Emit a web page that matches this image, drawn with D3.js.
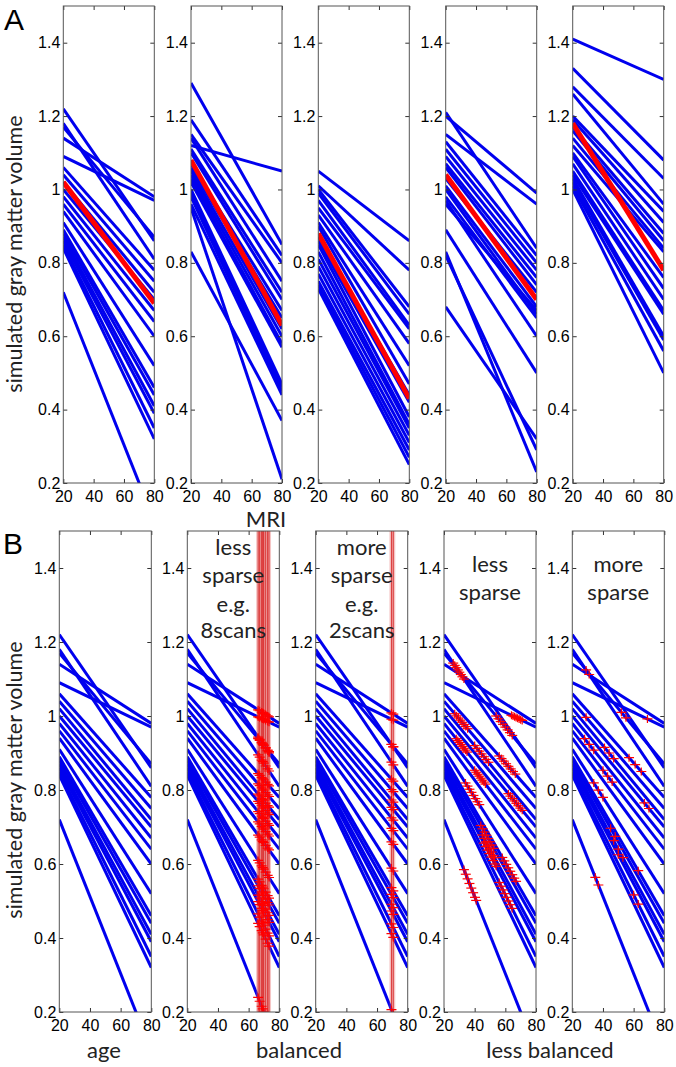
<!DOCTYPE html>
<html><head><meta charset="utf-8">
<script src="https://cdn.jsdelivr.net/npm/d3@7"></script>
<style>body{margin:0;background:#fff}</style></head>
<body><svg id="c" width="676" height="1067"></svg>
<script>
// ---------- data ----------
const ageTicks = [20, 40, 60, 80];
const volTicks = [0.2, 0.4, 0.6, 0.8, 1, 1.2, 1.4];
const volTickLabels = ["0.2", "0.4", "0.6", "0.8", "1", "1.2", "1.4"];

// Row A: simulated subjects, volume at age 20 and at age 80 (straight lines)
const a1Start = [1.22,1.18,1.17,1.14,1.09,1.06,1.04,1.02,1.00,0.98,0.96,0.94,0.91,0.89,0.88,0.87,0.86,0.85,0.84,0.72];
const a1End   = [0.86,0.81,0.87,0.98,0.97,0.78,0.75,0.72,0.70,0.67,0.64,0.60,0.52,0.46,0.44,0.41,0.39,0.35,0.32,0.096];
const a1Mean  = [1.02, 0.69];

const a2Start = [1.29,1.19,1.15,1.14,1.12,1.11,1.10,1.07,1.06,1.05,1.04,1.03,1.02,1.00,0.99,0.98,0.96,0.95,0.83];
const a2End   = [0.85,0.82,0.80,0.75,1.05,0.72,0.70,0.67,0.65,0.62,0.60,0.58,0.57,0.47,0.46,0.45,0.44,0.21,0.37];
const a2Mean  = [1.08, 0.63];

const a3Start = [1.05,1.01,1.00,0.99,0.97,0.95,0.93,0.91,0.90,0.87,0.86,0.85,0.83,0.81,0.79,0.77,0.75,0.74,0.73];
const a3End   = [0.86,0.78,0.68,0.66,0.63,0.62,0.58,0.52,0.47,0.44,0.42,0.38,0.36,0.35,0.33,0.31,0.29,0.27,0.25];
const a3Mean  = [0.88, 0.43];

const a4Start = [1.21,1.20,1.15,1.13,1.11,1.09,1.07,1.06,1.03,1.01,1.00,0.98,0.97,0.96,0.89,0.83,0.82,0.68];
const a4End   = [0.84,0.99,0.96,0.82,0.80,0.78,0.76,0.74,0.72,0.68,0.66,0.65,0.60,0.67,0.50,0.23,0.29,0.32];
const a4Mean  = [1.04, 0.70];

const a5Start = [1.41,1.33,1.28,1.26,1.20,1.19,1.17,1.16,1.14,1.12,1.10,1.09,1.07,1.05,1.04,1.03,1.02,1.01,1.00];
const a5End   = [1.30,1.08,1.03,0.96,0.94,0.91,0.88,0.86,0.84,0.83,0.76,0.73,0.70,0.67,0.66,0.60,0.59,0.56,0.50];
const a5Mean  = [1.18, 0.78];

// Row B: MRI scan ages (subjects are those of panel A1)
const b2ScanAges = [66.2, 67.2, 68.5, 69.2, 69.8, 71.1, 72.4, 73.3];   // every subject
const b3ScanAges = [69.4, 70.6];                                     // every subject
const b4ScanAges = [
  [], [26,27,28,29,30,31,32,33], [54,55.5,57,58.5,60,61.5,63,64.5], [],
  [64,65,66,67,68,69,70,71], [56,57.5,59,60.5,62,63.5,65,66.5], [27,28.2,29.4,30.6,31.8,33,34.2,35.4],
  [40,41.5,43,44.5,46,47.5,49], [62,63.3,64.6,65.9,67.2,68.5,69.8,71], [28,29,30,31,32,33,34,35],
  [40,41,42,43,44,45,46,47], [], [34,35.3,36.6,37.9,39.2,40.5,41.8,43],
  [58,59.3,60.6,61.9,63.2,64.5,65.8,67], [44,45.2,46.4,47.6,48.8,50,51.2,52.4],
  [45,46.2,47.4,48.6,49.8,51,52.2,53], [46,47.2,48.4,49.6,50.8,52,53.2,54],
  [56,57.2,58.4,59.6,60.8,62,63.2,64.4], [], [33,34.2,35.4,36.6,37.8,39,40.2,41]
];
const b5ScanAges = [
  [], [29,31], [52,55], [], [69], [57,61,65], [29], [41,44,47], [67,70], [28,31,34],
  [40,43,46], [], [34,37,40], [63], [45,48], [47,50,53], [50], [60,63], [], [35,37]
];

const bTexts = [[], ["less","sparse","e.g.","8scans"], ["more","sparse","e.g.","2scans"], ["less","sparse"], ["more","sparse"]];

// ---------- drawing ----------
const svg = d3.select("#c");
const blue = "#0000ee", red = "#ff0000";
const tickFont = "'Liberation Sans', Arial, sans-serif";
const labFont = "Lato, 'Open Sans', sans-serif";

const rows = [
  {top: 6,   bottom: 483,  lefts: [63.3, 191, 318.3, 445.7, 572.7], w: 91},
  {top: 531, bottom: 1012, lefts: [59.3, 187.3, 315.7, 444, 572.3], w: 92}
];

let clipId = 0;
function panel(row, col) {
  const R = rows[row];
  const x0 = R.lefts[col], w = R.w, h = R.bottom - R.top;
  const g = svg.append("g").attr("transform", `translate(${x0},${R.top})`);
  const x = d3.scaleLinear().domain([20, 80]).range([0, w]);
  const y = d3.scaleLinear().domain([0.2, 1.5]).range([h, 0]);
  const id = "clip" + (clipId++);
  g.append("clipPath").attr("id", id).append("rect").attr("width", w).attr("height", h);
  const plot = g.append("g").attr("clip-path", `url(#${id})`);
  return {g, plot, x, y, w, h};
}

function axes(P) {
  const {g, x, y, w, h} = P;
  const styl = sel => {
    sel.select(".domain").remove();
    sel.selectAll("line").attr("stroke", "#333");
    sel.selectAll("text").attr("font-family", tickFont).attr("font-size", 16).attr("fill", "#000");
  };
  g.append("g").attr("transform", `translate(0,${h})`)
    .call(d3.axisBottom(x).tickValues(ageTicks).tickSizeInner(-4).tickSizeOuter(0).tickPadding(8)).call(styl);
  g.append("g")
    .call(d3.axisTop(x).tickValues(ageTicks).tickSizeInner(-4).tickSizeOuter(0).tickFormat("")).call(styl);
  g.append("g")
    .call(d3.axisLeft(y).tickValues(volTicks).tickSizeInner(-4).tickSizeOuter(0).tickPadding(3)
      .tickFormat((d, i) => volTickLabels[i])).call(styl);
  g.append("g").attr("transform", `translate(${w},0)`)
    .call(d3.axisRight(y).tickValues(volTicks).tickSizeInner(-4).tickSizeOuter(0).tickFormat("")).call(styl);
  g.append("rect").attr("width", w).attr("height", h).attr("fill", "none").attr("stroke", "#555").attr("stroke-width", 1);
}

function subjLines(P, starts, ends) {
  const line = d3.line().x(d => P.x(d[0])).y(d => P.y(d[1]));
  P.plot.selectAll(null).data(starts.map((s, i) => [[20, s], [80, ends[i]]]))
    .join("path").attr("d", line).attr("fill", "none").attr("stroke", blue).attr("stroke-width", 3);
  return line;
}

function valAt(i, age) { return a1Start[i] + (a1End[i] - a1Start[i]) * (age - 20) / 60; }

function markers(P, agesPerSubj) {
  const pts = [];
  agesPerSubj.forEach((ages, i) => ages.forEach(a => pts.push([a, valAt(i, a)])));
  const m = P.plot.selectAll(null).data(pts).join("g")
    .attr("transform", d => `translate(${P.x(d[0])},${P.y(d[1])})`);
  m.append("line").attr("x1", -5).attr("x2", 5).attr("stroke", red).attr("stroke-width", 1.2);
  m.append("line").attr("y1", -4).attr("y2", 4).attr("stroke", red).attr("stroke-width", 1.2);
}

function scanBands(P, ages) {
  P.plot.selectAll(null).data(ages).join("line")
    .attr("x1", d => P.x(d)).attr("x2", d => P.x(d)).attr("y1", 0).attr("y2", P.h)
    .attr("stroke", "rgba(225,90,90,0.35)").attr("stroke-width", 4);
  P.plot.selectAll(null).data(ages).join("line")
    .attr("x1", d => P.x(d)).attr("x2", d => P.x(d)).attr("y1", 0).attr("y2", P.h)
    .attr("stroke", "#d62020").attr("stroke-width", 0.8);
}

// Row A
const aData = [[a1Start,a1End,a1Mean],[a2Start,a2End,a2Mean],[a3Start,a3End,a3Mean],[a4Start,a4End,a4Mean],[a5Start,a5End,a5Mean]];
aData.forEach((d, c) => {
  const P = panel(0, c);
  const line = subjLines(P, d[0], d[1]);
  P.plot.append("path").datum([[20, d[2][0]], [80, d[2][1]]]).attr("d", line)
    .attr("fill", "none").attr("stroke", red).attr("stroke-width", 5);
  axes(P);
});

// Row B
for (let c = 0; c < 5; c++) {
  const P = panel(1, c);
  subjLines(P, a1Start, a1End);
  if (c === 1) { scanBands(P, b2ScanAges); markers(P, a1Start.map(() => b2ScanAges)); }
  if (c === 2) { scanBands(P, b3ScanAges); markers(P, a1Start.map(() => b3ScanAges)); }
  if (c === 3) markers(P, b4ScanAges);
  if (c === 4) markers(P, b5ScanAges);
  const lineH = (c === 1 || c === 2) ? [24, 52, 81, 107] : [41, 69];
  P.g.selectAll(null).data(bTexts[c]).join("text")
    .attr("x", P.w / 2).attr("y", (d, i) => lineH[i])
    .attr("text-anchor", "middle").attr("font-family", labFont).attr("font-size", 22)
    .attr("fill", "#222").text(d => d);
  axes(P);
}

// labels
svg.append("text").attr("x", 4).attr("y", 30).attr("font-family", tickFont).attr("font-size", 30).text("A");
svg.append("text").attr("x", 3).attr("y", 554).attr("font-family", tickFont).attr("font-size", 30).text("B");
[254, 780].forEach(cy => {
  svg.append("text").attr("transform", `translate(22,${cy}) rotate(-90)`).attr("text-anchor", "middle")
    .attr("font-family", labFont).attr("font-size", 21.5).attr("fill", "#222").text("simulated gray matter volume");
});
svg.append("text").attr("x", 266).attr("y", 527).attr("text-anchor", "middle")
  .attr("font-family", labFont).attr("font-size", 22).attr("fill", "#222").text("MRI");
[[104, "age"], [299, "balanced"], [550, "less balanced"]].forEach(([x, t]) => {
  svg.append("text").attr("x", x).attr("y", 1058).attr("text-anchor", "middle")
    .attr("font-family", labFont).attr("font-size", 22).attr("fill", "#222").text(t);
});
</script></body></html>
